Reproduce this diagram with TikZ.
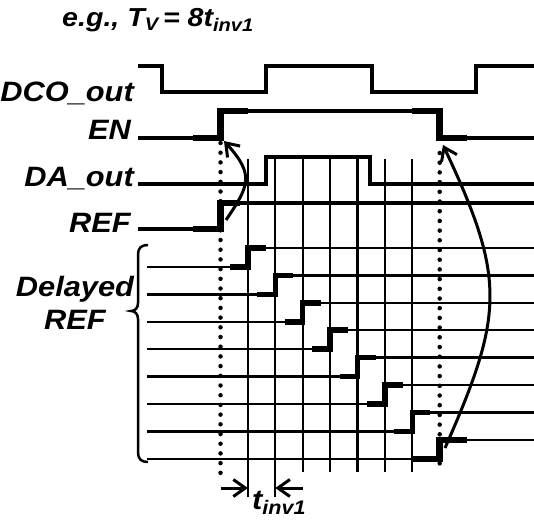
\documentclass[tikz,border=0pt]{standalone}
\usepackage{fontspec}
\setmainfont{Liberation Sans}
\newfontfamily\lab[FakeStretch=1.1]{Liberation Sans}
\usetikzlibrary{arrows.meta}
\begin{document}
\begin{tikzpicture}[x=1pt,y=-1pt, line join=miter,
  sig/.style={line width=3.8pt},
  dasig/.style={line width=4.8pt},
  thk/.style={line width=6.5pt},
  dthin/.style={line width=2.5pt},
  dthk/.style={line width=5.5pt},
  gridline/.style={line width=2.2pt},
  dots/.style={line width=4.5pt, line cap=round, dash pattern=on 0pt off 9.7pt},
  lbl/.style={font=\lab\bfseries\itshape\fontsize{28}{32}\selectfont, inner sep=0pt},
  ttl/.style={font=\lab\bfseries\itshape\fontsize{26}{30}\selectfont, inner sep=0pt},
  barb/.style={-{Straight Barb[length=12pt,width=17pt,line width=3pt]}, line width=3pt},
  carrow/.style={-{Straight Barb[length=12pt,width=17pt,line width=3pt]}, line width=3pt}
]
\useasboundingbox (0,0) rectangle (534,521);
\def\tz{220.5}
\def\dt{27.4}
% grid lines
\foreach \k in {1,2} {
  \draw[gridline] ({\tz+\dt*\k},159) -- ({\tz+\dt*\k},497);
}
\foreach \k in {3,...,7} {
  \draw[gridline] ({\tz+\dt*\k},159) -- ({\tz+\dt*\k},472);
}
% delayed REF lines
\foreach \i in {1,...,7} {
  \pgfmathsetmacro\tx{\tz+\dt*\i}
  \pgfmathsetmacro\yl{267+\dt*(\i-1)}
  \pgfmathsetmacro\yh{\yl-19}
  \draw[dthin] (147,\yl) -- (\tx,\yl) -- (\tx,\yh) -- (534,\yh);
  \draw[dthk] ({\tx-18},\yl) -- (\tx,\yl) -- (\tx,\yh) -- ({\tx+18},\yh);
}
\pgfmathsetmacro\txe{\tz+\dt*8}
\pgfmathsetmacro\txs{\tz+\dt*7}
\draw[dthin] (147,459) -- (\txe,459) -- (\txe,440) -- (534,440);
\draw[thk] (\txs,459) -- (\txe,459) -- (\txe,440) -- (467,440);
% signals
\draw[sig] (138,66) -- (162,66) -- (162,92) -- (266,92) -- (266,66) -- (372,66) -- (372,92) -- (476,92) -- (476,66) -- (534,66);
\draw[sig] (138,138) -- (\tz,138) -- (\tz,111) -- (\txe,111) -- (\txe,138) -- (534,138);
\draw[thk] (193,138) -- (\tz,138) -- (\tz,111) -- (248,111);
\draw[thk] (\txs,111) -- (\txe,111) -- (\txe,138) -- (467,138);
\draw[dasig] (138,184) -- (266,184) -- (266,157) -- (370,157) -- (370,184) -- (534,184);
\draw[sig] (138,229) -- (\tz,229) -- (\tz,203) -- (534,203);
\draw[thk] (193,229) -- (\tz,229) -- (\tz,203) -- (240,203);
% dotted markers
\draw[dots] (\tz,143) -- (\tz,473);
\draw[dots] (\txe,153) -- (\txe,473);
% brace
\draw[line width=2.5pt] (148,245) .. controls (141,245) and (138,248) .. (138,255) -- (138,303) .. controls (138,308) and (135,311) .. (131,311) .. controls (135,311) and (138,314) .. (138,319) -- (138,452) .. controls (138,459) and (141,462) .. (148,462);
% causal arrows
\coordinate (a1s) at (226,220);
\coordinate (a1e) at (224,141);
\draw[carrow] (a1s) .. controls (249,186) and (255,175) .. (a1e);
\coordinate (a2s) at (445,448);
\coordinate (a2e) at (443,145);
\draw[carrow] (a2s) .. controls (504,314) and (506,279) .. (a2e);
% t_inv1 dimension
\coordinate (d1) at (\tz,488);
\coordinate (d2) at ({\tz+\dt},488);
\coordinate (d3) at ({\tz+2*\dt},488);
\coordinate (d4) at ({\tz+3*\dt},488);
\draw[barb] (d1) -- (d2);
\draw[barb] (d4) -- (d3);
% labels
\node[lbl, anchor=base east] (dco) at (134,102) {DCO\_out};
\node[lbl, anchor=base east] (en) at (131,140) {EN};
\node[lbl, anchor=base east] (da) at (134,186) {DA\_out};
\node[lbl, anchor=base east] (ref) at (131,232) {REF};
\node[lbl, anchor=base] (dly) at (75,296) {Delayed};
\node[lbl, anchor=base] (dly2) at (75,329) {REF};
\node[lbl, anchor=base west] (tinv) at (252,509) {t\textsubscript{inv1}};
\node[ttl, anchor=base west] (title) at (62,27) {e.g., T\textsubscript{V}\,= 8t\textsubscript{inv1}};
\end{tikzpicture}
\end{document}
